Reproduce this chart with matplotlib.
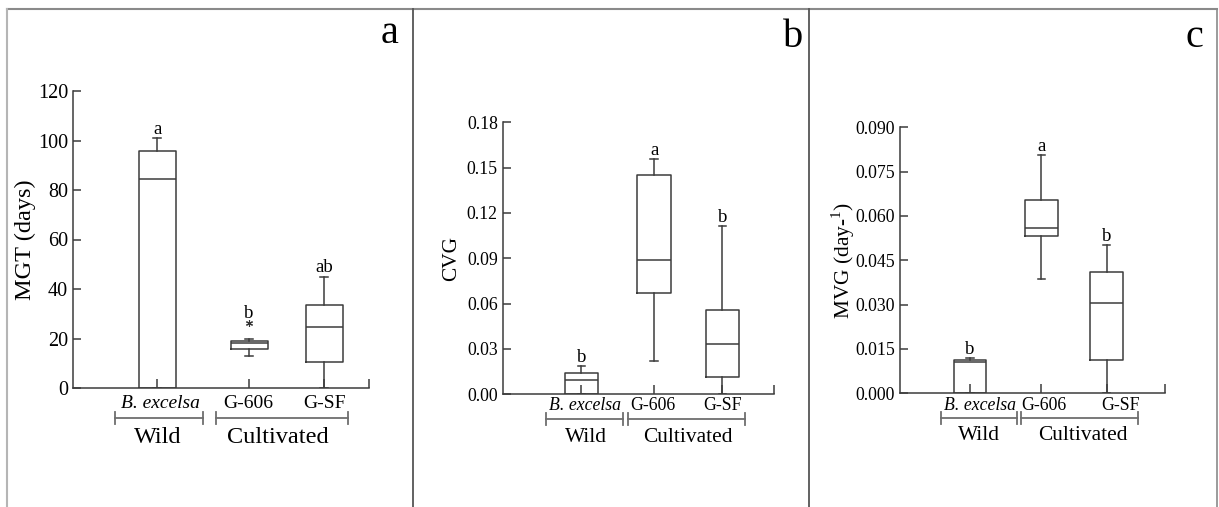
import matplotlib
matplotlib.use('Agg')
from matplotlib import pyplot as plt
from matplotlib.lines import Line2D

plt.rcParams['font.family'] = ['Liberation Serif', 'DejaVu Serif']
plt.rcParams['mathtext.fontset'] = 'custom'
plt.rcParams['mathtext.rm'] = 'Liberation Serif'

# figure size in pixels
W, H = 1219, 507

# groups on the x axis
categories = ['B. excelsa', 'G-606', 'G-SF']
groups = ['Wild', 'Cultivated']

# MGT (days)
mgt_med = [84.4, 18.0, 24.8]
mgt_q1 = [0.0, 15.9, 10.4]
mgt_q3 = [95.8, 19.1, 33.5]
mgt_lo = [0.0, 12.9, 0.0]
mgt_hi = [101.1, 19.7, 45.0]
mgt_out = [[], [26.4], []]
mgt_letters = ['a', 'b', 'ab']
mgt_ticks = [0, 20, 40, 60, 80, 100, 120]

# CVG
cvg_med = [0.0095, 0.0891, 0.0333]
cvg_q1 = [0.0, 0.0668, 0.0113]
cvg_q3 = [0.0139, 0.1449, 0.0556]
cvg_lo = [0.0, 0.0220, 0.0]
cvg_hi = [0.0189, 0.1557, 0.1112]
cvg_out = [[], [], []]
cvg_letters = ['b', 'a', 'b']
cvg_ticks = [0.00, 0.03, 0.06, 0.09, 0.12, 0.15, 0.18]

# MVG (day-1)
mvg_med = [0.0105, 0.0559, 0.0307]
mvg_q1 = [0.0, 0.0533, 0.0113]
mvg_q3 = [0.0113, 0.0653, 0.0411]
mvg_lo = [0.0, 0.0386, 0.0]
mvg_hi = [0.0120, 0.0805, 0.0501]
mvg_out = [[], [], []]
mvg_letters = ['b', 'a', 'b']
mvg_ticks = [0.000, 0.015, 0.030, 0.045, 0.060, 0.075, 0.090]


def fx(x):
    return x / W


def fy(y):
    return 1 - y / H


fig = plt.figure(figsize=(W / 100, H / 100), dpi=100)

# outer frame and panel dividers
fig.add_artist(Line2D([fx(7), fx(1217)], [fy(8.5), fy(8.5)], color='#8a8a8a', lw=1.5))
fig.add_artist(Line2D([fx(7), fx(7)], [fy(8.5), 0], color='#b5b5b5', lw=1.5))
fig.add_artist(Line2D([fx(1217), fx(1217)], [fy(8.5), 0], color='#8a8a8a', lw=1.2))
for xd in [413, 809]:
    fig.add_artist(Line2D([fx(xd), fx(xd)], [fy(8.5), 0], color='#555555', lw=1.3))

panels = [
    dict(rect=(73, 91, 369, 388), med=mgt_med, q1=mgt_q1, q3=mgt_q3, lo=mgt_lo, hi=mgt_hi,
         out=mgt_out, letters=mgt_letters, ticks=mgt_ticks, fmt='{:.0f}', ylabel='MGT (days)',
         pos=[0.284, 0.595, 0.848], bw=0.125, lab_x=[0.297, 0.592, 0.849], lab_y=-0.052,
         wild=(0.142, 0.439), cult=(0.483, 0.929), br_y=-0.101, grp_x=[0.287, 0.693], grp_y=-0.167,
         ylab_x=-0.162, tag='a', tag_xy=(390, 43), tick_fs=14.5, cat_fs=14, big_fs=17.5),
    dict(rect=(502.7, 122.3, 774, 394.3), med=cvg_med, q1=cvg_q1, q3=cvg_q3, lo=cvg_lo, hi=cvg_hi,
         out=cvg_out, letters=cvg_letters, ticks=cvg_ticks, fmt='{:.2f}', ylabel='CVG',
         pos=[0.290, 0.558, 0.810], bw=0.123, lab_x=[0.304, 0.555, 0.810], lab_y=-0.043,
         wild=(0.160, 0.443), cult=(0.462, 0.893), br_y=-0.091, grp_x=[0.307, 0.683], grp_y=-0.159,
         ylab_x=-0.188, tag='b', tag_xy=(793, 46.7), tick_fs=12.8, cat_fs=12.8, big_fs=15.4),
    dict(rect=(899.7, 127.3, 1165, 393.3), med=mvg_med, q1=mvg_q1, q3=mvg_q3, lo=mvg_lo, hi=mvg_hi,
         out=mvg_out, letters=mvg_letters, ticks=mvg_ticks, fmt='{:.3f}',
         ylabel=r'MVG (day-$^{\mathrm{1}}$)',
         pos=[0.265, 0.533, 0.781], bw=0.124, lab_x=[0.303, 0.545, 0.834], lab_y=-0.045,
         wild=(0.155, 0.442), cult=(0.457, 0.898), br_y=-0.093, grp_x=[0.299, 0.691], grp_y=-0.157,
         ylab_x=-0.214, tag='c', tag_xy=(1194, 46.7), tick_fs=12.8, cat_fs=12.8, big_fs=15.4),
]

line_col = '#3c3c3c'
grey = '#6e6e6e'

for p in panels:
    x0, yt, x1, yb = p['rect']
    ax = fig.add_axes([fx(x0), fy(yb), (x1 - x0) / W, (yb - yt) / H])

    stats = []
    for i in range(3):
        stats.append(dict(med=p['med'][i], q1=p['q1'][i], q3=p['q3'][i],
                          whislo=p['lo'][i], whishi=p['hi'][i], fliers=p['out'][i]))
    ax.bxp(stats, positions=p['pos'], widths=p['bw'], capwidths=0.027,
           boxprops=dict(color=line_col, lw=1.1),
           medianprops=dict(color=line_col, lw=1.1),
           whiskerprops=dict(color=line_col, lw=1.1),
           capprops=dict(color=line_col, lw=1.1),
           flierprops=dict(marker=(6, 2, 0), markersize=5, markeredgecolor='#333333', markeredgewidth=0.8),
           manage_ticks=False)

    ax.set_xlim(0, 1)
    ax.set_ylim(p['ticks'][0], p['ticks'][-1])
    ax.set_yticks(p['ticks'])
    ax.set_yticklabels([p['fmt'].format(t) for t in p['ticks']])
    ax.set_xticks(p['pos'] + [1.0])
    ax.set_xticklabels([])
    for side in ['top', 'right']:
        ax.spines[side].set_visible(False)
    for side in ['left', 'bottom']:
        ax.spines[side].set_color(line_col)
        ax.spines[side].set_linewidth(1.1)
    ax.tick_params(axis='both', direction='in', length=6, width=1.1, color=line_col,
                   labelsize=p['tick_fs'], pad=3.5)
    ax.tick_params(axis='x', length=6.5)
    ax.patch.set_alpha(0)

    # significance letters above each box
    for i in range(3):
        top = max([p['hi'][i]] + p['out'][i])
        ax.annotate(p['letters'][i], (p['pos'][i], top), xytext=(0, 3),
                    textcoords='offset points', ha='center', va='baseline', fontsize=13.5)

    # category labels
    for i, c in enumerate(categories):
        ax.text(p['lab_x'][i], p['lab_y'], c, transform=ax.transAxes, ha='center', va='center',
                fontsize=p['cat_fs'], style='italic' if i == 0 else 'normal')

    # group brackets
    for (a, b), g, gx in zip([p['wild'], p['cult']], groups, p['grp_x']):
        d = 6 / (yb - yt)
        by = p['br_y']
        ax.plot([a, b], [by, by], color=grey, lw=1.3, transform=ax.transAxes, clip_on=False)
        ax.plot([a, a], [by - d, by + d], color=grey, lw=1.3, transform=ax.transAxes, clip_on=False)
        ax.plot([b, b], [by - d, by + d], color=grey, lw=1.3, transform=ax.transAxes, clip_on=False)
        ax.text(gx, p['grp_y'], g, transform=ax.transAxes, ha='center', va='center',
                fontsize=p['big_fs'])

    ax.text(p['ylab_x'], 0.5, p['ylabel'], transform=ax.transAxes, rotation=90,
            ha='center', va='center', fontsize=p['big_fs'])

    fig.text(fx(p['tag_xy'][0]), fy(p['tag_xy'][1]), p['tag'], ha='center', va='baseline',
             fontsize=29)

fig.savefig('out.png', dpi=100)
